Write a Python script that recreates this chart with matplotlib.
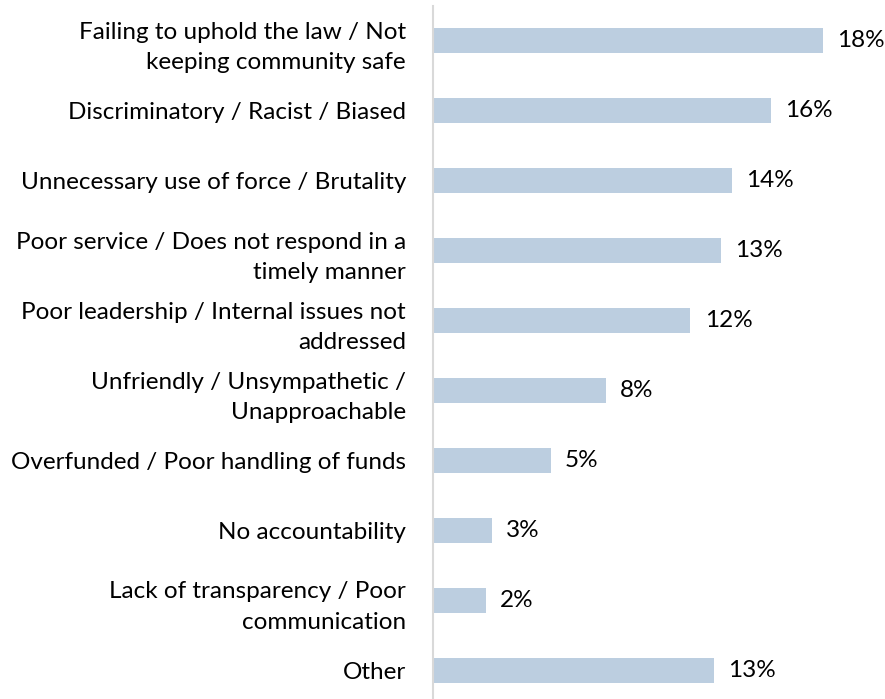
import matplotlib.pyplot as plt

# data
categories = [
    "Failing to uphold the law / Not\nkeeping community safe",
    "Discriminatory / Racist / Biased",
    "Unnecessary use of force / Brutality",
    "Poor service / Does not respond in a\ntimely manner",
    "Poor leadership / Internal issues not\naddressed",
    "Unfriendly / Unsympathetic /\nUnapproachable",
    "Overfunded / Poor handling of funds",
    "No accountability",
    "Lack of transparency / Poor\ncommunication",
    "Other",
]
values = [18.0, 15.6, 13.8, 13.3, 11.9, 8.0, 5.45, 2.75, 2.47, 13.0]
value_labels = ["18%", "16%", "14%", "13%", "12%", "8%", "5%", "3%", "2%", "13%"]

plt.rcParams['font.family'] = ['Lato', 'DejaVu Sans']

W, H = 885, 699
fig = plt.figure(figsize=(W / 100, H / 100), dpi=100)
ax_left = 432.5 / W
ax_top = 5.5 / H
ax_bottom = -6.5 / H
ax = fig.add_axes([ax_left, ax_bottom, 1 - ax_left, 1 - ax_top - ax_bottom])

ypos = list(range(len(categories)))
ax.barh(ypos, values, height=0.35, color='#BCCEE0')
ax.set_ylim(len(categories) - 0.5, -0.5)
ax.set_xlim(0, (W - 432.5) / 21.68)

for y, v, lab in zip(ypos, values, value_labels):
    ax.text(v + 0.65, y, lab, va='center', ha='left', fontsize=17.5, color='#000000')

ax.set_yticks(ypos)
ax.set_yticklabels(categories, fontsize=17.5, color='#000000', linespacing=1.55)
ax.tick_params(axis='y', length=0, pad=19)
ax.set_xticks([])

for s in ['top', 'right', 'bottom']:
    ax.spines[s].set_visible(False)
ax.spines['left'].set_color('#D9D9D9')
ax.spines['left'].set_linewidth(1.5)

fig.savefig('out.png', dpi=100)
